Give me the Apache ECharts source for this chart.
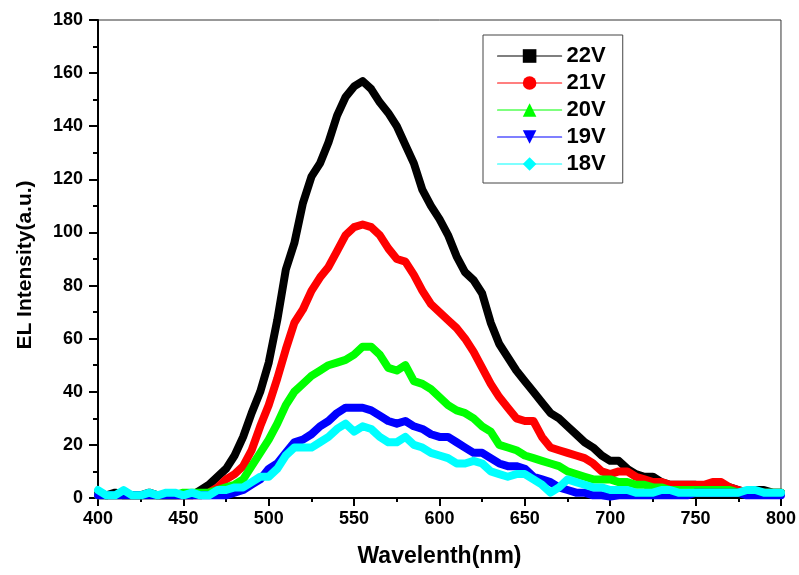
<!DOCTYPE html>
<html>
<head>
<meta charset="utf-8">
<script src="https://cdn.jsdelivr.net/npm/echarts@6/dist/echarts.min.js"></script>
<style>
html,body{margin:0;padding:0;background:#fff;}
#chart{width:799px;height:575px;}
</style>
</head>
<body>
<div id="chart"></div>
<script>
// Wavelength (nm), 400..800 step 5
const wavelengths = [400,405,410,415,420,425,430,435,440,445,450,455,460,465,470,475,480,485,490,495,500,505,510,515,520,525,530,535,540,545,550,555,560,565,570,575,580,585,590,595,600,605,610,615,620,625,630,635,640,645,650,655,660,665,670,675,680,685,690,695,700,705,710,715,720,725,730,735,740,745,750,755,760,765,770,775,780,785,790,795,800];

const seriesNames = ['22V','21V','20V','19V','18V'];

const v22 = [2,1,2,1,1,1,2,1,1,1,1,1,3,5,8,11,16,23,32,40,51,67,86,96,111,121,126,134,144,151,155,157,154,149,145,140,133,126,116,110,105,99,91,85,82,77,66,58,53,48,44,40,36,32,30,27,24,21,19,16,14,14,11,9,8,8,6,5,5,5,5,4,4,3,4,3,2,3,3,2,2];
const v21 = [1,1,1,1,1,1,1,1,1,1,1,1,1,2,4,7,9,12,18,27,35,45,56,66,71,78,83,87,93,99,102,103,102,99,94,90,89,84,78,73,70,67,64,60,55,49,43,38,34,30,29,29,23,19,18,17,16,15,13,10,9,10,10,8,7,6,6,5,5,5,5,5,6,6,4,3,2,2,2,2,2];
const v20 = [1,1,1,1,1,1,1,1,1,1,2,2,2,2,3,4,5,7,12,17,22,28,35,40,43,46,48,50,51,52,54,57,57,54,49,48,50,44,43,41,38,35,33,32,30,27,25,20,19,18,16,15,14,13,12,10,9,8,7,7,7,6,6,5,5,4,4,3,3,3,3,3,3,3,3,2,2,2,2,2,2];
const v19 = [1,1,1,1,1,1,1,1,1,1,1,1,1,1,1,1,2,3,5,7,11,13,17,21,22,24,27,29,32,34,34,34,33,31,29,28,29,27,26,24,23,23,21,19,17,17,15,13,12,12,11,8,7,6,4,3,2,2,1,1,0.5,1,1,1,1,1,1,1,1,1,2,2,2,2,2,2,1,1,1,1,1];
const v18 = [3,1,1,3,1,1,2,1,2,2,1,2,1,1,3,3,4,4,6,8,8,11,16,19,19,19,21,23,26,28,25,27,26,23,21,21,23,20,19,17,16,15,13,13,14,13,10,9,8,9,9,7,5,2,4,7,6,5,4,4,3,3,3,2,2,2,3,3,2,2,2,2,2,2,2,2,3,3,2,2,2];

const allValues = [v22, v21, v20, v19, v18];
const colors = ['#000000','#ff0000','#00ff00','#0000ff','#00ffff'];
const symbols = ['rect','circle','triangle','path://M0,0 L10,0 L5,10 Z','diamond'];

const FONT = '"Liberation Sans", Arial, sans-serif';

const series = seriesNames.map((name, i) => ({
  name: name,
  type: 'line',
  data: wavelengths.map((w, k) => [w, allValues[i][k]]),
  showSymbol: false,
  symbol: symbols[i],
  symbolSize: 12,
  smooth: false,
  itemStyle: { color: colors[i] },
  lineStyle: { color: colors[i], width: 8, join: 'round', cap: 'round' },
  animation: false
}));

const chart = echarts.init(document.getElementById('chart'), null, {renderer: 'canvas'});
chart.setOption({
  backgroundColor: '#ffffff',
  animation: false,
  grid: { left: 98, right: 17, top: 20, bottom: 77, show: true, borderColor: '#333', borderWidth: 1, backgroundColor: 'transparent' },
  legend: {
    data: seriesNames.map((n, i) => ({ name: n, lineStyle: { color: colors[i], width: 1.2 }, itemStyle: { color: colors[i] } })),
    orient: 'vertical',
    left: 483, top: 35,
    padding: [10, 17, 8, 14],
    itemWidth: 64, itemHeight: 17, itemGap: 5,
    borderColor: '#444', borderWidth: 1,
    lineStyle: { width: 1.2 },
    textStyle: { fontFamily: FONT, fontWeight: 'bold', fontSize: 22, color: '#000' }
  },
  graphic: [{
    type: 'text',
    x: 25, y: 265,
    rotation: Math.PI / 2,
    style: {
      text: 'EL Intensity(a.u.)',
      fontFamily: FONT, fontWeight: 'bold', fontSize: 21, fill: '#000',
      textAlign: 'center', textVerticalAlign: 'middle'
    }
  }],
  xAxis: {
    type: 'value', min: 400, max: 800, interval: 50,
    name: 'Wavelenth(nm)', nameLocation: 'middle', nameGap: 47,
    nameTextStyle: { fontFamily: FONT, fontWeight: 'bold', fontSize: 23, color: '#000' },
    axisLine: { show: true, onZero: false, lineStyle: { color: '#000', width: 2 } },
    axisTick: { show: true, inside: false, length: 8, lineStyle: { color: '#000', width: 2 } },
    minorTick: { show: true, splitNumber: 2, length: 4, lineStyle: { color: '#000', width: 2 } },
    axisLabel: { margin: 12, fontFamily: FONT, fontWeight: 'bold', fontSize: 18, color: '#000' },
    splitLine: { show: false }
  },
  yAxis: {
    type: 'value', min: 0, max: 180, interval: 20,
    axisLine: { show: true, lineStyle: { color: '#000', width: 2 } },
    axisTick: { show: true, inside: false, length: 9, lineStyle: { color: '#000', width: 2 } },
    minorTick: { show: true, splitNumber: 2, length: 5, lineStyle: { color: '#000', width: 2 } },
    axisLabel: { margin: 15, fontFamily: FONT, fontWeight: 'bold', fontSize: 18, color: '#000' },
    splitLine: { show: false }
  },
  series: series
});
</script>
</body>
</html>
